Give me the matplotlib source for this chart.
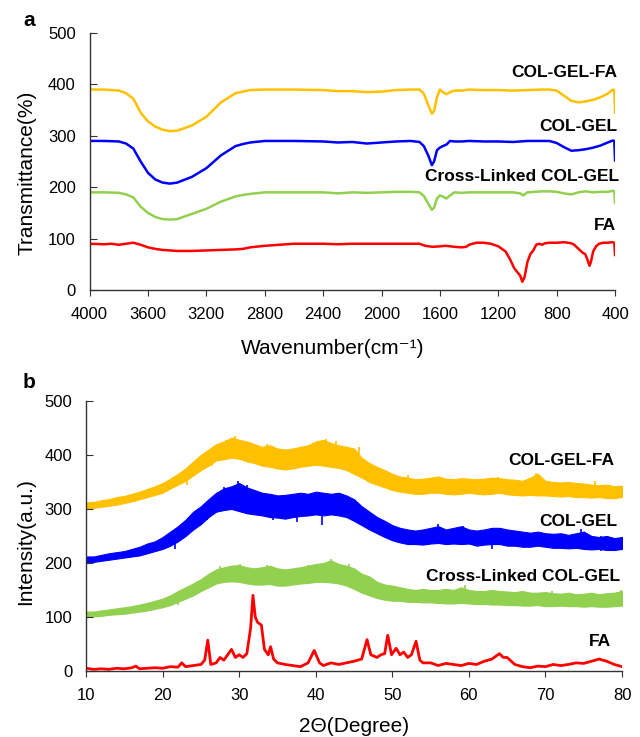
import matplotlib
matplotlib.use("Agg")
import matplotlib.pyplot as plt

plt.rcParams['font.family'] = ['Liberation Sans', 'DejaVu Sans']

# ---- panel a: FTIR spectra ----
wn_fa_gel = [4000, 3900, 3800, 3750, 3700, 3650, 3600, 3550, 3500, 3450, 3400, 3300, 3200, 3100, 3000,
             2950, 2900, 2800, 2600, 2400, 2300, 2200, 2100, 2000, 1900, 1800, 1740, 1710, 1680, 1655,
             1640, 1620, 1600, 1580, 1555, 1530, 1500, 1450, 1400, 1300, 1200, 1100, 1000, 900, 850,
             800, 750, 700, 650, 600, 550, 500, 450, 415, 405, 400]
t_col_gel_fa = [390, 390, 388, 383, 372, 345, 328, 318, 312, 309, 310, 320, 337, 365, 383,
                386, 389, 390, 390, 389, 387, 387, 385, 386, 389, 390, 390, 382, 360, 343,
                348, 375, 390, 385, 381, 385, 388, 388, 390, 389, 389, 388, 389, 390, 390,
                388, 378, 368, 365, 367, 370, 375, 382, 390, 388, 345]
t_col_gel = [290, 290, 289, 285, 275, 250, 228, 215, 209, 207, 209, 220, 237, 262, 280,
             284, 287, 290, 290, 289, 287, 288, 285, 287, 289, 290, 288, 280, 262, 243,
             250, 272, 277, 280, 283, 290, 289, 289, 290, 289, 289, 288, 290, 290, 290,
             286, 278, 271, 272, 274, 277, 281, 287, 291, 290, 252]

wn_cl = [4000, 3900, 3800, 3750, 3700, 3650, 3600, 3550, 3500, 3450, 3400, 3300, 3200, 3100, 3000,
         2950, 2900, 2800, 2600, 2400, 2300, 2200, 2100, 2000, 1900, 1800, 1740, 1710, 1680, 1655,
         1640, 1620, 1600, 1580, 1555, 1530, 1500, 1450, 1400, 1300, 1200, 1100, 1050, 1030, 1000,
         900, 850, 800, 750, 700, 650, 600, 550, 500, 450, 415, 405, 400]
t_cross = [190, 190, 189, 186, 180, 162, 150, 142, 138, 137, 138, 148, 158, 172, 182,
           185, 187, 190, 190, 190, 188, 190, 189, 190, 191, 191, 190, 183, 168, 156,
           160, 178, 184, 182, 178, 184, 190, 189, 190, 190, 190, 190, 188, 184, 190,
           192, 192, 191, 188, 186, 190, 192, 190, 191, 191, 193, 192, 170]

wn_fa = [4000, 3900, 3850, 3800, 3750, 3700, 3650, 3600, 3550, 3500, 3450, 3400, 3300, 3200, 3100,
         3000, 2950, 2900, 2800, 2700, 2600, 2400, 2300, 2200, 2000, 1800, 1740, 1700, 1650, 1600,
         1560, 1500, 1450, 1420, 1400, 1350, 1300, 1250, 1200, 1150, 1120, 1090, 1070, 1050, 1035,
         1020, 1000, 980, 960, 940, 920, 900, 880, 850, 800, 750, 700, 680, 650, 620,
         605, 590, 575, 565, 550, 530, 510, 480, 450, 420, 405, 400]
t_fa = [90, 89, 90, 88, 90, 92, 88, 83, 80, 78, 77, 76, 76, 77, 78,
        79, 80, 83, 86, 88, 90, 90, 89, 90, 90, 90, 90, 86, 84, 85,
        86, 84, 83, 84, 88, 92, 92, 90, 85, 75, 60, 42, 35, 28, 16,
        25, 55, 70, 77, 88, 90, 88, 91, 92, 92, 93, 91, 88, 80, 72,
        70, 60, 47, 55, 75, 85, 90, 92, 92, 93, 92, 68]

# ---- panel b: XRD patterns (noisy traces given as lower/upper envelopes) ----
two_theta = list(range(10, 81))
gelfa_hi = [312, 313, 316, 318, 322, 324, 328, 332, 337, 342, 348, 356, 365, 375, 388, 400, 410, 420,
            425, 432, 428, 425, 420, 415, 418, 412, 410, 412, 415, 418, 425, 428, 422, 418, 415, 412,
            395, 385, 378, 372, 365, 360, 358, 355, 356, 358, 360, 356, 355, 357, 356, 355, 356, 358,
            357, 355, 354, 352, 358, 365, 352, 350, 349, 350, 348, 347, 345, 344, 345, 342, 343]
gelfa_lo = [300, 302, 304, 306, 308, 311, 314, 318, 322, 326, 330, 338, 345, 352, 362, 372, 380, 390,
            392, 395, 393, 388, 385, 380, 378, 375, 373, 375, 378, 380, 382, 380, 378, 376, 372, 365,
            358, 350, 345, 340, 335, 332, 330, 328, 328, 330, 330, 328, 327, 328, 330, 328, 327, 328,
            330, 327, 326, 325, 326, 325, 325, 324, 323, 324, 322, 322, 321, 322, 320, 320, 322]
gel_hi = [212, 212, 215, 218, 220, 222, 226, 230, 236, 240, 248, 258, 268, 280, 295, 305, 318, 330,
          338, 342, 348, 340, 335, 330, 328, 325, 326, 328, 330, 328, 332, 330, 328, 330, 325, 318,
          305, 295, 285, 278, 270, 265, 262, 260, 262, 265, 268, 262, 265, 268, 262, 260, 262, 265,
          265, 262, 260, 258, 256, 258, 255, 254, 255, 252, 255, 258, 250, 248, 250, 246, 248]
gel_lo = [200, 202, 204, 206, 208, 210, 212, 214, 218, 222, 226, 232, 240, 250, 262, 272, 285, 295,
          298, 300, 296, 292, 290, 288, 285, 284, 282, 285, 287, 288, 290, 288, 290, 288, 285, 278,
          270, 262, 255, 248, 242, 238, 235, 235, 234, 236, 237, 235, 236, 235, 236, 232, 234, 235,
          235, 232, 232, 230, 230, 232, 230, 228, 228, 227, 228, 226, 225, 226, 224, 224, 226]
cross_hi = [110, 110, 112, 114, 116, 118, 120, 123, 126, 130, 134, 140, 148, 155, 162, 170, 180, 188,
            192, 195, 196, 192, 190, 192, 195, 190, 188, 190, 192, 195, 198, 200, 205, 198, 195, 190,
            180, 175, 165, 160, 158, 155, 152, 150, 152, 150, 150, 152, 150, 155, 150, 148, 148, 150,
            148, 147, 146, 148, 145, 145, 146, 144, 143, 145, 142, 143, 145, 142, 144, 145, 148]
cross_lo = [100, 101, 102, 104, 105, 106, 108, 110, 112, 115, 118, 122, 128, 134, 140, 148, 155, 162,
            165, 166, 165, 162, 160, 160, 161, 158, 158, 160, 162, 163, 165, 165, 164, 162, 158, 152,
            145, 140, 135, 132, 130, 130, 128, 128, 127, 127, 126, 125, 125, 126, 125, 124, 124, 123,
            123, 122, 122, 121, 121, 122, 120, 120, 121, 120, 120, 119, 120, 119, 119, 120, 121]

# isolated spikes sticking out of each noisy band: position, bottom, top
gelfa_spk_x = [23.2, 26.5, 28.3, 29.4, 33.6, 39.2, 41.3, 42.6, 45.6, 52.1, 63.8, 68.8, 76.5]
gelfa_spk_lo = [345, 380, 395, 400, 385, 385, 400, 395, 390, 335, 330, 345, 325]
gelfa_spk_hi = [372, 412, 428, 435, 420, 418, 430, 425, 415, 362, 360, 367, 352]
gel_spk_x = [21.6, 25.8, 28.0, 29.9, 31.0, 34.4, 37.5, 40.5, 40.8, 43.4, 56.0, 59.2, 63.0, 74.6, 77.2]
gel_spk_lo = [225, 280, 310, 320, 310, 280, 275, 295, 270, 290, 245, 240, 225, 240, 222]
gel_spk_hi = [250, 310, 340, 352, 345, 305, 300, 330, 300, 325, 272, 268, 250, 262, 250]
cross_spk_x = [22.0, 27.5, 30.1, 33.7, 39.0, 42.0, 44.4, 46.9, 59.5, 70.8, 79.9]
cross_spk_lo = [122, 165, 168, 162, 162, 170, 160, 140, 135, 125, 125]
cross_spk_hi = [145, 195, 198, 197, 196, 207, 198, 170, 160, 148, 150]

fa_x = [10, 11, 12, 13, 14, 15, 16, 16.5, 17, 18, 19, 20, 21, 22, 22.5, 23, 24, 25, 25.5, 25.9,
        26.3, 27, 27.5, 28, 28.5, 29, 29.5, 30, 30.5, 31, 31.5, 31.8, 32.1, 32.4, 32.9, 33.3, 33.8,
        34.1, 34.5, 35, 36, 37, 38, 39, 39.8, 40.5, 41, 42, 43, 44, 45, 46, 46.7, 47.2, 48, 48.5,
        49, 49.4, 49.9, 50.5, 51, 51.5, 52, 52.5, 53.1, 53.6, 54, 55, 56, 57, 58, 59, 60, 61, 62,
        63, 64, 64.5, 65, 66, 67, 68, 69, 70, 71, 72, 73, 74, 75, 76, 77, 78, 79, 80]
fa_int = [5, 3, 4, 3, 5, 4, 6, 9, 4, 5, 6, 5, 8, 7, 15, 8, 10, 12, 20, 57,
          12, 15, 25, 20, 30, 40, 25, 30, 25, 32, 80, 140, 100, 90, 85, 40, 30,
          45, 22, 15, 12, 10, 8, 15, 38, 15, 10, 15, 12, 15, 18, 22, 58, 30, 25, 30,
          32, 66, 30, 42, 30, 35, 25, 30, 55, 20, 15, 15, 10, 14, 12, 10, 14, 12, 18,
          22, 32, 25, 25, 12, 8, 6, 9, 8, 12, 10, 12, 15, 14, 18, 22, 18, 12, 8]

names = ['COL-GEL-FA', 'COL-GEL', 'Cross-Linked COL-GEL', 'FA']
colors = ['#FFC000', '#0000FF', '#92D050', '#FF0000']

fig = plt.figure(figsize=(6.4, 7.37), dpi=100)


def style_axes(ax):
    for side in ['top', 'right']:
        ax.spines[side].set_visible(False)
    for side in ['left', 'bottom']:
        ax.spines[side].set_color('#333333')
        ax.spines[side].set_linewidth(1.0)
    ax.tick_params(axis='y', direction='in', length=5, pad=10, labelsize=12, color='#333333')
    ax.tick_params(axis='x', direction='out', length=4, pad=8, labelsize=12, color='#333333')


# panel a
ax1 = fig.add_axes([0.140, 0.6065, 0.821, 0.3487])
ax1.plot(wn_fa_gel, t_col_gel_fa, color=colors[0], lw=1.8)
ax1.plot(wn_fa_gel, t_col_gel, color=colors[1], lw=1.8)
ax1.plot(wn_cl, t_cross, color=colors[2], lw=1.8)
ax1.plot(wn_fa, t_fa, color=colors[3], lw=1.8)
ax1.set_xlim(4000, 400)
ax1.set_ylim(0, 500)
ax1.set_xticks(range(4000, 399, -400))
ax1.set_yticks(range(0, 501, 100))
style_axes(ax1)
lab_a = [(385, 424), (385, 319), (370, 220), (390, 126)]
for name, (xx, yy) in zip(names, lab_a):
    ax1.text(xx, yy, name, ha='right', va='center', fontsize=12.5, fontweight='bold', clip_on=False)
ax1.text(-0.119, 0.455, 'Transmittance(%)', transform=ax1.transAxes, rotation=90,
         ha='center', va='center', fontsize=15)
ax1.text(0.463, -0.226, 'Wavenumber(cm\u207b\u00b9)', transform=ax1.transAxes,
         ha='center', va='center', fontsize=15)

# panel b
ax2 = fig.add_axes([0.1344, 0.0896, 0.8375, 0.3664])
bands = [(gelfa_lo, gelfa_hi, gelfa_spk_x, gelfa_spk_lo, gelfa_spk_hi),
         (gel_lo, gel_hi, gel_spk_x, gel_spk_lo, gel_spk_hi),
         (cross_lo, cross_hi, cross_spk_x, cross_spk_lo, cross_spk_hi)]
for (lo, hi, sx, slo, shi), c in zip(bands, colors[:3]):
    ax2.fill_between(two_theta, lo, hi, color=c, lw=0.8, edgecolor=c)
    ax2.vlines(sx, slo, shi, color=c, lw=1.2)
ax2.plot(fa_x, fa_int, color=colors[3], lw=2.0)
ax2.set_xlim(10, 80)
ax2.set_ylim(0, 500)
ax2.set_xticks(range(10, 81, 10))
ax2.set_yticks(range(0, 501, 100))
style_axes(ax2)
lab_b = [(79.0, 389), (79.4, 276), (79.8, 174), (78.5, 54)]
for name, (xx, yy) in zip(names, lab_b):
    ax2.text(xx, yy, name, ha='right', va='center', fontsize=12.5, fontweight='bold', clip_on=False)
ax2.text(-0.112, 0.478, 'Intensity(a.u.)', transform=ax2.transAxes, rotation=90,
         ha='center', va='center', fontsize=15)
ax2.text(0.5, -0.207, '2\u0398(Degree)', transform=ax2.transAxes,
         ha='center', va='center', fontsize=15)

fig.text(29 / 640, 1 - 20 / 737, 'a', ha='center', va='center', fontsize=15, fontweight='bold')
fig.text(29 / 640, 1 - 382 / 737, 'b', ha='center', va='center', fontsize=15, fontweight='bold')

fig.savefig('out.png', dpi=100)
